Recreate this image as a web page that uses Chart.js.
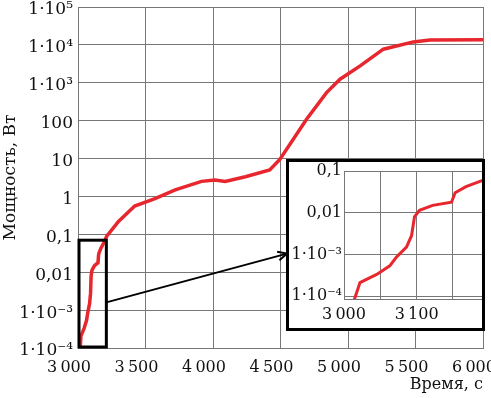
<!DOCTYPE html>
<html>
<head>
<meta charset="utf-8">
<script src="https://cdn.jsdelivr.net/npm/chart.js@4"></script>
<style>
body{margin:0;background:#fff;}
#wrap{position:relative;width:491px;height:398px;}
#inset{position:absolute;left:286px;top:159px;border:3px solid #000;background:#fff;width:193px;height:166px;}
</style>
</head>
<body>
<div id="wrap">
<canvas id="main" width="491" height="398"></canvas>
<div id="inset"><canvas id="zoom" width="193" height="166"></canvas></div>
</div>
<script>
// time, s
var times = [3014, 3022, 3045, 3063, 3072, 3086, 3093, 3097, 3104, 3122, 3148, 3153, 3168, 3189,
	3213, 3300, 3420, 3570, 3720, 3915, 4015, 4090, 4240, 4420, 4495, 4693, 4841, 4941, 5090, 5262, 5484, 5607, 6000];
// power, W
var power = [8e-5, 2.1e-4, 3.3e-4, 5.3e-4, 8.5e-4, 1.5e-3, 2.8e-3, 7.9e-3, 0.0114, 0.015, 0.0178, 0.030, 0.042, 0.058,
	0.09, 0.22, 0.56, 0.88, 1.5, 2.5, 2.7, 2.5, 3.3, 5.0, 9.5, 109, 550, 1245, 2800, 7700, 12000, 13500, 13600];

var yTickVals = [1e-4, 1e-3, 0.01, 0.1, 1, 10, 100, 1e3, 1e4, 1e5];
var yTickLabels = ['1·10⁻⁴', '1·10⁻³', '0,01', '0,1', '1', '10', '100', '1·10³', '1·10⁴', '1·10⁵'];
var xTickVals = [3000, 3500, 4000, 4500, 5000, 5500, 6000];
var xTickLabels = ['3\u2009000', '3\u2009500', '4\u2009000', '4\u2009500', '5\u2009000', '5\u2009500', '6\u2009000'];

var zoomYVals = [1e-4, 1e-3, 0.01, 0.1];
var zoomYLabels = ['1·10⁻⁴', '1·10⁻³', '0,01', '0,1'];
var zoomXVals = [3000, 3050, 3100, 3150];
var zoomXLabels = ['3\u2009000', '', '3\u2009100', ''];

// marked region and arrow, in data units
var box = {x0: 3000, x1: 3210, y0: 1e-4, y1: 0.07};
var arrowFrom = {x: 3210, y: 1.6e-3}, arrowTo = {x: 4548, y: 0.031};

var serif = '"DejaVu Serif", serif';
var red = '#e8262e';
var gridCol = '#777';

function pts() { return times.map((t, i) => ({x: t, y: power[i]})); }

var markPlugin = {
	id: 'mark',
	afterDatasetsDraw(chart) {
		var c = chart.ctx, xs = chart.scales.x, ys = chart.scales.y;
		c.save();
		c.strokeStyle = '#000';
		c.lineWidth = 3;
		var bx0 = xs.getPixelForValue(box.x0), bx1 = xs.getPixelForValue(box.x1);
		var by0 = ys.getPixelForValue(box.y0), by1 = ys.getPixelForValue(box.y1);
		c.strokeRect(bx0 + 1, by1, bx1 - bx0 - 1, by0 - by1 - 1);
		var ax = xs.getPixelForValue(arrowFrom.x), ay = ys.getPixelForValue(arrowFrom.y);
		var ex = xs.getPixelForValue(arrowTo.x), ey = ys.getPixelForValue(arrowTo.y);
		c.lineWidth = 2;
		c.beginPath(); c.moveTo(ax, ay); c.lineTo(ex, ey); c.stroke();
		var a = Math.atan2(ey - ay, ex - ax), L = 10;
		c.beginPath();
		c.moveTo(ex - L * Math.cos(a - 0.45), ey - L * Math.sin(a - 0.45));
		c.lineTo(ex, ey);
		c.lineTo(ex - L * Math.cos(a + 0.45), ey - L * Math.sin(a + 0.45));
		c.stroke();
		c.restore();
	}
};

new Chart(document.getElementById('main').getContext('2d'), {
	type: 'line',
	data: {datasets: [{data: pts(), borderColor: red, borderWidth: 3.5, pointRadius: 0, tension: 0, fill: false}]},
	options: {
		responsive: false, animation: false, devicePixelRatio: 1,
		layout: {padding: {top: 7, right: 8, left: 0, bottom: 0}},
		plugins: {legend: {display: false}, tooltip: {enabled: false}},
		scales: {
			x: {
				type: 'linear', min: 3000, max: 6000,
				afterBuildTicks: s => { s.ticks = xTickVals.map(v => ({value: v})); },
				afterFit: s => { s.height = 50; s.paddingLeft = 0; s.paddingRight = 0; },
				grid: {color: gridCol, drawTicks: false},
				border: {color: gridCol},
				ticks: {padding: 10, labelOffset: -9, maxRotation: 0, autoSkip: false, color: '#111', font: {family: serif, size: 16},
					callback: (v, i) => xTickLabels[i]},
				title: {display: true, text: 'Время, с', align: 'end', color: '#111', font: {family: serif, size: 16}, padding: {top: 0}}
			},
			y: {
				type: 'logarithmic', min: 1e-4, max: 1e5,
				afterBuildTicks: s => { s.ticks = yTickVals.map(v => ({value: v})); },
				afterFit: s => { s.width = 78; s.paddingTop = 0; s.paddingBottom = 0; },
				grid: {color: gridCol, drawTicks: false},
				border: {color: gridCol},
				ticks: {padding: 5, labelOffset: 3, autoSkip: false, color: '#111', font: {family: serif, size: 17},
					callback: (v, i) => yTickLabels[i]},
				title: {display: true, text: 'Мощность, Вт', color: '#111', font: {family: serif, size: 17}, padding: {top: 0, bottom: 2}}
			}
		}
	},
	plugins: [markPlugin]
});

new Chart(document.getElementById('zoom').getContext('2d'), {
	type: 'line',
	data: {datasets: [{data: pts(), borderColor: red, borderWidth: 3, pointRadius: 0, tension: 0, fill: false}]},
	options: {
		responsive: false, animation: false, devicePixelRatio: 1,
		layout: {padding: {top: 9, right: 0, left: 0, bottom: 0}},
		plugins: {legend: {display: false}, tooltip: {enabled: false}},
		scales: {
			x: {
				type: 'linear', min: 3000, max: 3190,
				afterBuildTicks: s => { s.ticks = zoomXVals.map(v => ({value: v})); },
				afterFit: s => { s.height = 29; s.paddingLeft = 0; s.paddingRight = 0; },
				grid: {color: gridCol, drawTicks: false},
				border: {color: gridCol},
				ticks: {padding: 6, maxRotation: 0, autoSkip: false, color: '#111', font: {family: serif, size: 16},
					callback: (v, i) => zoomXLabels[i]}
			},
			y: {
				type: 'logarithmic', min: 8.5e-5, max: 0.1,
				afterBuildTicks: s => { s.ticks = zoomYVals.map(v => ({value: v})); },
				afterFit: s => { s.width = 55; s.paddingTop = 0; s.paddingBottom = 0; },
				grid: {color: gridCol, drawTicks: false},
				border: {color: gridCol},
				ticks: {padding: 2, autoSkip: false, color: '#111', font: {family: serif, size: 16},
					callback: (v, i) => zoomYLabels[i]}
			}
		}
	}
});
</script>
</body>
</html>
